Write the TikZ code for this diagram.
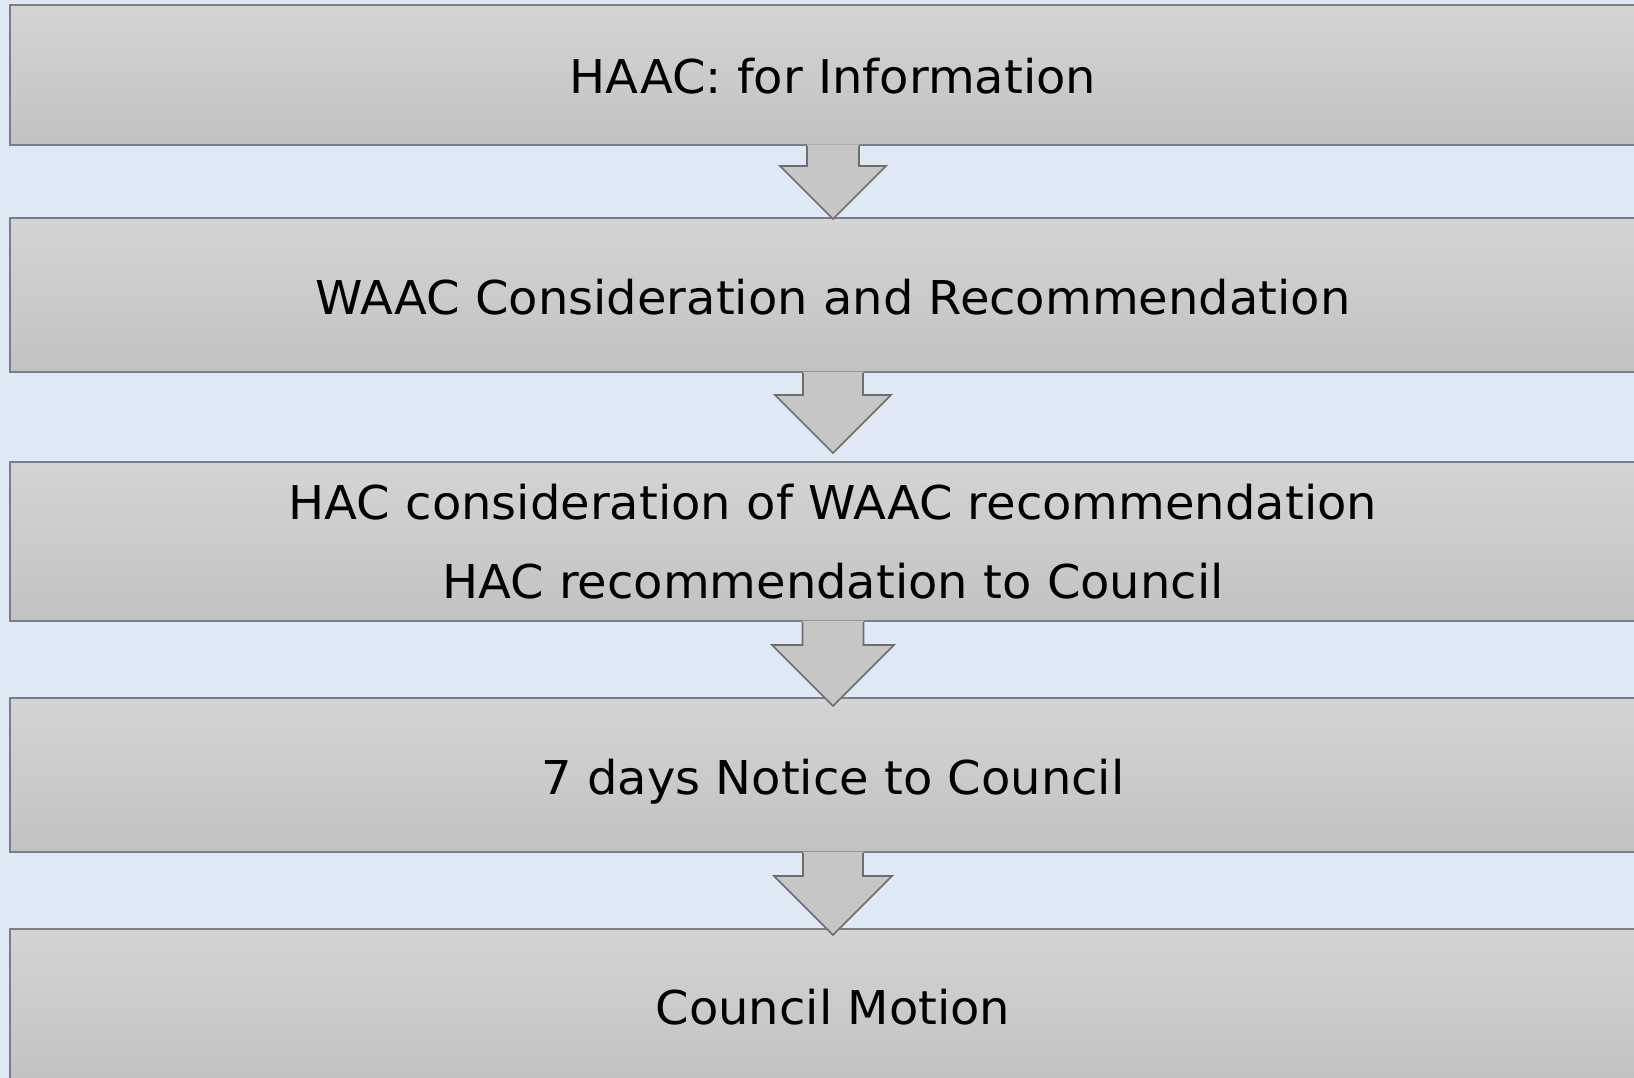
\documentclass[tikz,border=0pt]{standalone}
\usepackage{fontspec}
\setmainfont{DejaVu Sans}[FakeStretch=1.03]
\usetikzlibrary{calc}
\definecolor{bgblue}{HTML}{DEE9F5}
\definecolor{boxtop}{HTML}{D4D4D4}
\definecolor{boxbot}{HTML}{C2C2C2}
\definecolor{boxline}{HTML}{7A7F85}
\definecolor{arrowfill}{HTML}{C6C6C6}
\definecolor{arrowline}{HTML}{6E6E6E}
\def\flowarrow(#1)(#2)(#3:#4:#5){%
	\coordinate (tip) at ($(#2.north)+(0,#5)$);
	\fill[arrowfill] ($(#1.south)+(-#3,-1.5)$) -- ($(tip)+(-#3,-#4)$) -- ($(tip)+(-#4,-#4)$) -- (tip)
		-- ($(tip)+(#4,-#4)$) -- ($(tip)+(#3,-#4)$) -- ($(#1.south)+(#3,-1.5)$) -- cycle;
	\draw[arrowline, line width=1.6pt, line join=miter] ($(#1.south)+(-#3,0)$) -- ($(tip)+(-#3,-#4)$) -- ($(tip)+(-#4,-#4)$) -- (tip)
		-- ($(tip)+(#4,-#4)$) -- ($(tip)+(#3,-#4)$) -- ($(#1.south)+(#3,0)$);
}

\begin{document}
\begin{tikzpicture}[x=1pt, y=-1pt,
		stage/.style={draw=boxline, line width=2pt, top color=boxtop, bottom color=boxbot,
			minimum width=1646pt, inner sep=0pt, font=\fontsize{46.6}{79}\selectfont, text=black},
		oneline/.style={text height=38pt, text depth=0pt}]
	%%%%% START %%%%%
	
	\useasboundingbox (0, 0) rectangle (1634, 1078);
	\clip (0, 0) rectangle (1634, 1078);
	\fill[bgblue] (0, 0) rectangle (1634, 1078);
	
	\node[stage, oneline, minimum height=140pt] (haac) at (833, 75) {HAAC: for Information};
	\node[stage, oneline, minimum height=154pt] (waac) at (833, 295) {WAAC Consideration and Recommendation};
	\node[stage, align=center, minimum height=159pt] (hac) at (833, 541.5)
		{HAC consideration of WAAC recommendation\\HAC recommendation to Council};
	\node[stage, oneline, minimum height=154pt] (notice) at (833, 775) {7 days Notice to Council};
	\node[stage, oneline, minimum height=152pt] (motion) at (833, 1005) {Council Motion};
	
	\flowarrow(haac)(waac)(26:53:2)
	\flowarrow(waac)(hac)(30:58:-8)
	\flowarrow(hac)(notice)(30.5:61:9)
	\flowarrow(notice)(motion)(30:59:7)
	
	%%%%% END %%%%%
\end{tikzpicture}
\end{document}
